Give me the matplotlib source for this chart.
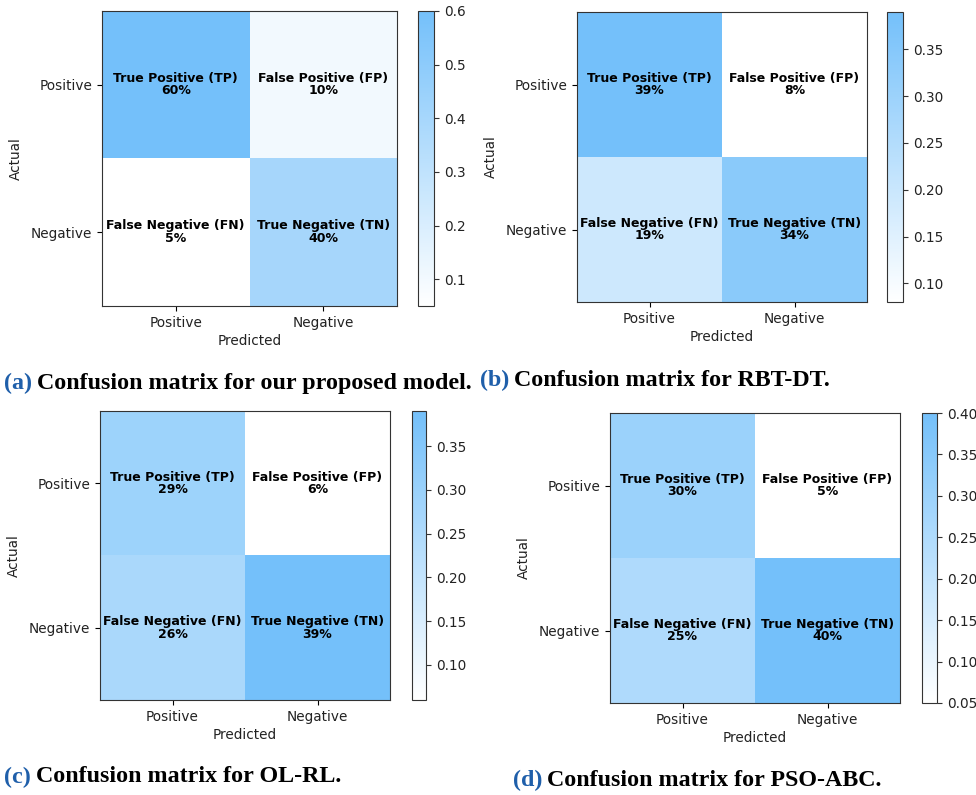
import numpy as np
import matplotlib
matplotlib.use("Agg")
import matplotlib.pyplot as plt
from matplotlib.colors import LinearSegmentedColormap

W, H = 976, 795

labels = ["Positive", "Negative"]
cell_names = [["True Positive (TP)", "False Positive (FP)"],
              ["False Negative (FN)", "True Negative (TN)"]]

# confusion matrices as fractions (rows: actual, cols: predicted)
proposed = [[0.60, 0.10], [0.05, 0.40]]
rbt_dt = [[0.39, 0.08], [0.19, 0.34]]
ol_rl = [[0.29, 0.06], [0.26, 0.39]]
pso_abc = [[0.30, 0.05], [0.25, 0.40]]

tags = ["(a)", "(b)", "(c)", "(d)"]
captions = ["Confusion matrix for our proposed model.",
            "Confusion matrix for RBT-DT.",
            "Confusion matrix for OL-RL.",
            "Confusion matrix for PSO-ABC."]

cmap = LinearSegmentedColormap.from_list("wb", ["#FFFFFF", "#74C0FA"])

# pixel boxes: (left, top, right, bottom) for heatmap and colorbar, caption x/y
panels = [
    dict(m=proposed, ax=(102, 11, 397, 306), cb=(418, 11, 434, 306), cap=(4, 383)),
    dict(m=rbt_dt, ax=(577, 12, 867, 302), cb=(887, 12, 903, 302), cap=(480, 380)),
    dict(m=ol_rl, ax=(100, 411, 390, 700), cb=(412, 411, 426, 700), cap=(4, 777)),
    dict(m=pso_abc, ax=(610, 413, 900, 703), cb=(922, 413, 937, 703), cap=(513, 780)),
]


def rect(box):
    l, t, r, b = box
    return [l / W, 1 - b / H, (r - l) / W, (b - t) / H]


fig = plt.figure(figsize=(W / 100, H / 100), dpi=100)
TXT = "#222222"
FS = 9.8
CAP_FS = 17.3

for p, tag, cap in zip(panels, tags, captions):
    m = np.array(p["m"])
    ax = fig.add_axes(rect(p["ax"]))
    cax = fig.add_axes(rect(p["cb"]))
    im = ax.imshow(m, cmap=cmap, vmin=m.min(), vmax=m.max(), aspect="auto")
    for i in range(2):
        for j in range(2):
            ax.text(j, i, f"{cell_names[i][j]}\n{m[i, j] * 100:.0f}%",
                    ha="center", va="center", fontsize=9.0, fontweight="bold",
                    color="black", linespacing=0.95)
    ax.set_xticks([0, 1])
    ax.set_yticks([0, 1])
    ax.set_xticklabels(labels, fontsize=FS, color=TXT)
    ax.set_yticklabels(labels, fontsize=FS, color=TXT)
    ax.set_xlabel("Predicted", fontsize=FS, color=TXT, labelpad=3)
    ax.set_ylabel("Actual", fontsize=FS, color=TXT, labelpad=6)
    for s in ax.spines.values():
        s.set_color("#333333")
    cb = fig.colorbar(im, cax=cax)
    cb.ax.tick_params(labelsize=FS, labelcolor=TXT, color="#333333")
    cb.outline.set_edgecolor("#333333")

    x, y = p["cap"]
    t = fig.text(x / W, 1 - y / H, tag, ha="left", va="center", fontsize=CAP_FS,
                 fontweight="bold", family="Liberation Serif", color="#1F5FAA")
    fig.canvas.draw()
    bb = t.get_window_extent()
    fig.text(bb.x1 / W + 5 / W, 1 - y / H, cap, ha="left", va="center",
             fontsize=CAP_FS, fontweight="bold", family="Liberation Serif",
             color="black")

fig.savefig("out.png", dpi=100)
